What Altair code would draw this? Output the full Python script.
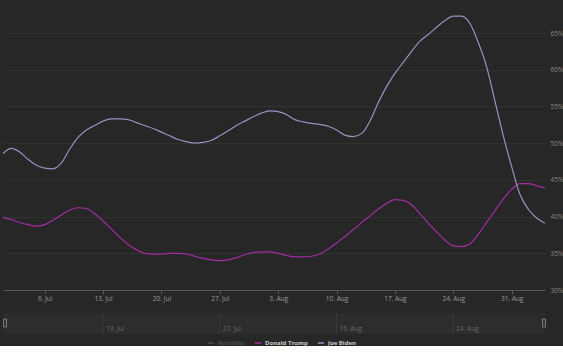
import altair as alt
import pandas as pd

# ---- data -------------------------------------------------------------
start_date = "2020-07-01"
n_days = 66
dates = pd.date_range(start_date, periods=n_days, freq="D").strftime("%Y-%m-%d").tolist()

biden = [48.6, 49.3, 48.8, 47.8, 47.0, 46.6, 46.5, 47.3, 49.2, 50.8,
         51.8, 52.4, 53.0, 53.3, 53.3, 53.2, 52.8, 52.4, 52.0, 51.5,
         51.0, 50.5, 50.2, 50.0, 50.1, 50.4, 51.0, 51.7, 52.4, 53.0,
         53.6, 54.1, 54.4, 54.3, 53.9, 53.2, 52.9, 52.7, 52.55, 52.3,
         51.8, 51.1, 50.9, 51.3, 53.0, 55.5, 57.7, 59.5, 61.0, 62.5,
         63.9, 64.8, 65.8, 66.7, 67.3, 67.3, 66.3, 63.7, 60.4, 55.7,
         51.0, 46.8, 43.0, 41.0, 39.8, 39.1]

trump = [39.9, 39.6, 39.2, 38.9, 38.7, 38.9, 39.5, 40.2, 40.9, 41.2,
         41.1, 40.4, 39.4, 38.3, 37.2, 36.2, 35.5, 35.0, 34.9, 34.9,
         35.0, 35.0, 34.9, 34.6, 34.3, 34.1, 34.0, 34.1, 34.4, 34.8,
         35.1, 35.2, 35.2, 35.0, 34.7, 34.5, 34.5, 34.6, 34.9, 35.6,
         36.4, 37.3, 38.2, 39.2, 40.1, 41.0, 41.8, 42.3, 42.2, 41.6,
         40.4, 39.1, 37.9, 36.8, 36.0, 35.9, 36.3, 37.6, 39.2, 40.8,
         42.4, 43.7, 44.5, 44.5, 44.2, 43.9]

series_names = ["Portfolio", "Donald Trump", "Joe Biden"]
series_colors = ["#4a4a4a", "#a32ca3", "#9494bd"]

x_ticks = ["2020-07-06", "2020-07-13", "2020-07-20", "2020-07-27", "2020-08-03",
           "2020-08-10", "2020-08-17", "2020-08-24", "2020-08-31"]
nav_ticks = ["2020-07-13", "2020-07-27", "2020-08-10", "2020-08-24"]
y_ticks = [30, 35, 40, 45, 50, 55, 60, 65]

# ---- tables -----------------------------------------------------------
df = pd.DataFrame({
    "date": dates * 2,
    "value": trump + biden,
    "series": ["Donald Trump"] * n_days + ["Joe Biden"] * n_days,
})
nav_band = pd.DataFrame({"start": [dates[0]], "end": [dates[-1]]})
nav_tick_df = pd.DataFrame({"date": nav_ticks})
left_handle = pd.DataFrame({"date": [dates[0]]})
right_handle = pd.DataFrame({"date": [dates[-1]]})

def dt(s):
    y, m, d = s.split("-")
    return alt.DateTime(year=int(y), month=int(m), date=int(d), utc=True)

x_scale = alt.Scale(type="utc", domain=[dt(dates[0]), dt(dates[-1])], nice=False)

BG = "#272727"
FONT = "Open Sans"

lines = alt.Chart(df).mark_line(interpolate="monotone", strokeWidth=1.2).encode(
    x=alt.X("date:T", scale=x_scale, title=None,
            axis=alt.Axis(values=[dt(s) for s in x_ticks],
                          labelExpr="utcFormat(datum.value, '%-d. %b')",
                          labelFontSize=6.5, labelColor="#9a9a9a",
                          labelFont=FONT, tickColor="#555555", tickSize=4,
                          domainColor="#555555", grid=False, labelPadding=1)),
    y=alt.Y("value:Q", scale=alt.Scale(domain=[30, 69.5], nice=False, zero=False),
            title=None,
            axis=alt.Axis(orient="right", values=y_ticks,
                          labelExpr="datum.value + '%'", labelFontSize=6.5,
                          labelColor="#8a8a8a", labelFont=FONT, labelPadding=5,
                          domain=False, ticks=False, gridColor="#323232",
                          gridWidth=1)),
    color=alt.Color("series:N",
                    scale=alt.Scale(domain=series_names, range=series_colors),
                    legend=alt.Legend(orient="none", legendX=204, legendY=339,
                                      direction="horizontal", title=None,
                                      symbolType="stroke", symbolSize=40,
                                      symbolStrokeWidth=1.5, labelFontSize=6.0,
                                      labelFontWeight="bold", labelFont=FONT,
                                      labelColor={"expr": "datum.label == 'Portfolio' ? '#4a4a4a' : '#c8c8c8'"},
                                      columnPadding=6, labelOffset=3)),
)

band = alt.Chart(nav_band).mark_rect(color="#2d2d2d").encode(
    x=alt.X("start:T", scale=x_scale), x2="end:T",
    y=alt.value(313), y2=alt.value(334),
)

nav_lines = alt.Chart(nav_tick_df).mark_rule(color="#3b3b3b", strokeWidth=1).encode(
    x=alt.X("date:T", scale=x_scale), y=alt.value(313), y2=alt.value(334),
)

nav_labels = alt.Chart(nav_tick_df).transform_calculate(
    label="utcFormat(toDate(datum.date), '%-d. %b')"
).mark_text(
    align="left", dx=3, fontSize=6.5, color="#6a6a6a", font=FONT
).encode(
    x=alt.X("date:T", scale=x_scale), y=alt.value(329),
    text="label:N",
)

lh = alt.Chart(left_handle).mark_rect(width=3, height=8, fill="#333333",
                                      stroke="#8a8a8a", strokeWidth=0.8,
                                      xOffset=2).encode(
    x=alt.X("date:T", scale=x_scale), y=alt.value(323),
)
rh = alt.Chart(right_handle).mark_rect(width=3, height=8, fill="#333333",
                                       stroke="#8a8a8a", strokeWidth=0.8,
                                       xOffset=-1).encode(
    x=alt.X("date:T", scale=x_scale), y=alt.value(323),
)

chart = alt.layer(band, nav_lines, nav_labels, lh, rh, lines).properties(
    width=542, height=290, background=BG, padding=0,
).configure_view(stroke=None)

chart.save("out.html", embed_options={"renderer": "svg", "actions": False})
